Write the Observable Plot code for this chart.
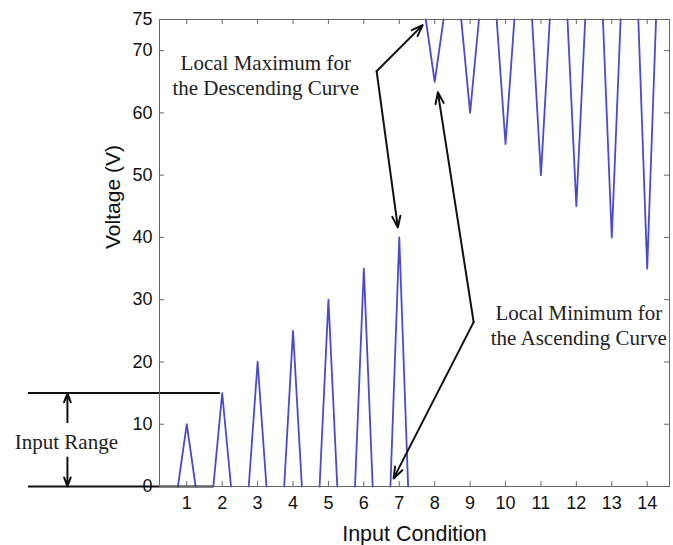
<!DOCTYPE html>
<html>
<head>
<meta charset="utf-8">
<script src="https://cdn.jsdelivr.net/npm/d3@7"></script>
<script src="https://cdn.jsdelivr.net/npm/@observablehq/plot@0.6"></script>
<style>
  html, body { margin: 0; padding: 0; background: #fff; }
  #chart svg { display: block; }
</style>
</head>
<body>
<div id="chart"></div>
<script>
// Tick labels
const xTicks = [1, 2, 3, 4, 5, 6, 7, 8, 9, 10, 11, 12, 13, 14];
const yTicks = [0, 10, 20, 30, 40, 50, 60, 70, 75];

// Ascending curve (input conditions 1–7): one triangle per condition
const ascCond = [1, 1, 1, 2, 2, 2, 3, 3, 3, 4, 4, 4, 5, 5, 5, 6, 6, 6, 7, 7, 7];
const ascX = [0.75, 1, 1.25, 1.75, 2, 2.25, 2.75, 3, 3.25, 3.75, 4, 4.25, 4.75, 5, 5.25, 5.75, 6, 6.25, 6.75, 7, 7.25];
const ascV = [0, 10, 0, 0, 15, 0, 0, 20, 0, 0, 25, 0, 0, 30, 0, 0, 35, 0, 0, 40, 0];

// Descending curve (input conditions 8–14): one inverted triangle per condition
const descCond = [8, 8, 8, 9, 9, 9, 10, 10, 10, 11, 11, 11, 12, 12, 12, 13, 13, 13, 14, 14, 14];
const descX = [7.75, 8, 8.25, 8.75, 9, 9.25, 9.75, 10, 10.25, 10.75, 11, 11.25, 11.75, 12, 12.25, 12.75, 13, 13.25, 13.75, 14, 14.25];
const descV = [75, 65, 75, 75, 60, 75, 75, 55, 75, 75, 50, 75, 75, 45, 75, 75, 40, 75, 75, 35, 75];

// Annotation texts
const noteText = ["Local Maximum for\nthe Descending Curve", "Local Minimum for\nthe Ascending Curve", "Input Range"];
const noteX = [3.23, 12.07, -2.40];
const noteY = [66.1, 25.95, 7.23];

// Annotation arrows
const arrowX1 = [6.36, 6.36, 9.10, 9.10, -2.37, -2.37];
const arrowY1 = [66.7, 66.7, 26.4, 26.4, 10.3, 4.66];
const arrowX2 = [7.66, 6.96, 8.09, 6.84, -2.37, -2.37];
const arrowY2 = [74.1, 41.6, 63.3, 1.3, 15, 0];

// Input range bracket lines
const rangeV = [0, 15];
const rangeX1 = [-3.47, -3.47];
const rangeX2 = [1.76, 1.95];

const asc = ascX.map((x, i) => ({x, v: ascV[i], c: ascCond[i]}));
const desc = descX.map((x, i) => ({x, v: descV[i], c: descCond[i]}));
const notes = noteText.map((t, i) => ({t, x: noteX[i], y: noteY[i]}));
const arrows = arrowX1.map((x1, i) => ({x1, y1: arrowY1[i], x2: arrowX2[i], y2: arrowY2[i]}));
const ranges = rangeV.map((v, i) => ({v, x1: rangeX1[i], x2: rangeX2[i]}));

const xDomain = [0.23, 14.63];
const yDomain = [0, 75];
const blue = "#4a4acc";
const axisColor = "#666";

const chart = Plot.plot({
  width: 673,
  height: 545,
  marginLeft: 159,
  marginRight: 4,
  marginTop: 19,
  marginBottom: 59,
  style: {fontFamily: "'Liberation Sans', Arial, sans-serif", fontSize: "18px", color: "#111", background: "#fff"},
  x: {domain: xDomain, label: null},
  y: {domain: yDomain, label: null},
  marks: [
    // Plot lines
    Plot.line(asc, {x: "x", y: "v", z: "c", stroke: blue, strokeWidth: 1.8}),
    Plot.line(desc, {x: "x", y: "v", z: "c", stroke: blue, strokeWidth: 1.8}),
    // Input range lines
    Plot.ruleY(ranges, {y: "v", x1: "x1", x2: "x2", stroke: "#111", strokeWidth: 2}),
    // Frame and inward ticks
    Plot.frame({stroke: axisColor, strokeWidth: 1}),
    Plot.ruleX(xTicks, {x: d => d, y1: 0, y2: 0.8, stroke: axisColor}),
    Plot.ruleX(xTicks, {x: d => d, y1: 74.2, y2: 75, stroke: axisColor}),
    Plot.ruleY(yTicks, {y: d => d, x1: xDomain[0], x2: xDomain[0] + 0.14, stroke: axisColor}),
    Plot.ruleY(yTicks, {y: d => d, x1: xDomain[1] - 0.14, x2: xDomain[1], stroke: axisColor}),
    Plot.axisX(xTicks, {tickSize: 0, tickPadding: 10, fontSize: 18, fill: "#111"}),
    Plot.axisY(yTicks, {tickSize: 0, tickPadding: 7, fontSize: 18, fill: "#111"}),
    // Axis titles
    Plot.text(["Input Condition"], {frameAnchor: "bottom", dy: 54, text: d => d, fontSize: 21.5, fill: "#111"}),
    Plot.text(["Voltage (V)"], {frameAnchor: "left", dx: -46, dy: -4, rotate: -90, text: d => d, fontSize: 21, fill: "#111"}),
    // Annotations
    Plot.arrow(arrows, {x1: "x1", y1: "y1", x2: "x2", y2: "y2", stroke: "#111", strokeWidth: 2, headLength: 9, headAngle: 40}),
    Plot.text(notes, {x: "x", y: "y", text: "t", fontFamily: "'Liberation Serif', 'Times New Roman', serif", fontSize: 21, lineHeight: 1.19, fill: "#222"})
  ]
});

document.getElementById("chart").appendChild(chart);
</script>
</body>
</html>
